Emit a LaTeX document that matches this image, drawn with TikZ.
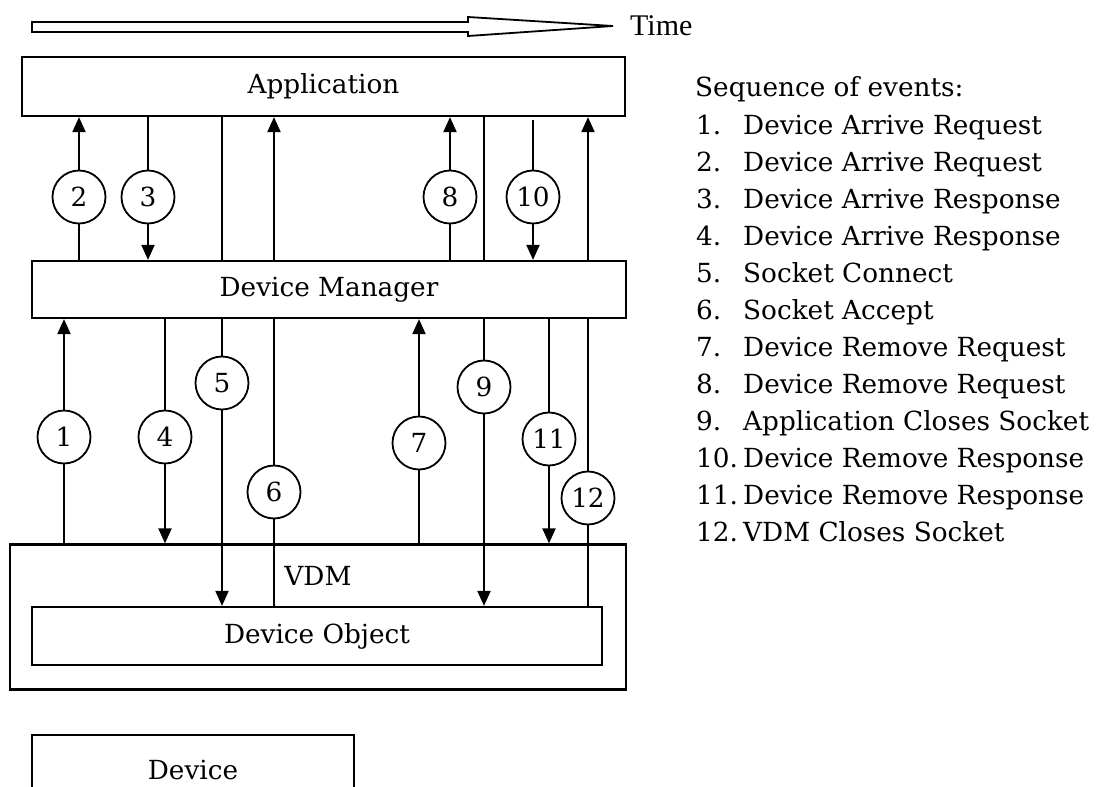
\documentclass[tikz,border=0pt]{standalone}
\usepackage{fontspec}
\setmainfont{DejaVu Serif}
\newfontfamily\timefont{Liberation Serif}
\usepackage{tikz}
\usetikzlibrary{arrows.meta}

\tikzset{
  box/.style={draw,line width=2.2pt,inner sep=0pt},
  num/.style={draw,circle,fill=white,line width=1.8pt,minimum size=53pt,inner sep=0pt},
  ln/.style={line width=2pt},
  arr/.style={ln,-{Triangle[length=15pt,width=13pt]}},
  txt/.style={font=\fontsize{26.3}{31}\selectfont}
}

\begin{document}
\begin{tikzpicture}[x=1pt,y=-1pt,every node/.style={txt}]
\clip (0,0) rectangle (1096,787);

\draw[line width=1.8pt,fill=white] (32,22) -- (468,22) -- (468,17) -- (613,26) -- (468,36) -- (468,32) -- (32,32) -- cycle;
\node[anchor=base west,inner sep=0pt,font=\timefont\fontsize{30}{34}\selectfont] (time) at (630,35) {Time};

\node[box,minimum width=603pt,minimum height=59pt] (app) at (323.5,86.5) {Application};
\node[box,minimum width=594pt,minimum height=57pt] (dm) at (329,289.5) {Device Manager};
\node[box,minimum width=616pt,minimum height=145pt] (vdm) at (318,617) {};
\node (vdmtxt) at (318,576) {VDM};
\node[box,minimum width=570pt,minimum height=58pt] (do) at (317,636) {Device Object};
\node[box,minimum width=322pt,minimum height=70pt] (dev) at (193,770) {Device};

\coordinate (n1) at (64,437);
\coordinate (n2) at (79,197);
\coordinate (n3) at (148,197);
\coordinate (n4) at (165,437);
\coordinate (n5) at (222,383);
\coordinate (n6) at (274,492);
\coordinate (n7) at (419,443);
\coordinate (n8) at (450,197);
\coordinate (n9) at (484,387);
\coordinate (n10) at (533,197);
\coordinate (n11) at (549,439);
\coordinate (n12) at (588,498);

\draw[ln] (n1 |- vdm.north) -- (n1);
\draw[arr] (n1) -- (n1 |- dm.south);
\draw[ln] (n2 |- dm.north) -- (n2);
\draw[arr] (n2) -- (n2 |- app.south);
\draw[ln] (n3 |- app.south) -- (n3);
\draw[arr] (n3) -- (n3 |- dm.north);
\draw[ln] (n4 |- dm.south) -- (n4);
\draw[arr] (n4) -- (n4 |- vdm.north);
\draw[ln] (n5 |- app.south) -- (n5 |- dm.north);
\draw[ln] (n5 |- dm.south) -- (n5);
\draw[arr] (n5) -- (n5 |- do.north);
\draw[ln] (n6 |- do.north) -- (n6);
\draw[ln] (n6) -- (n6 |- dm.south);
\draw[arr] (n6 |- dm.north) -- (n6 |- app.south);
\draw[ln] (n7 |- vdm.north) -- (n7);
\draw[arr] (n7) -- (n7 |- dm.south);
\draw[ln] (n8 |- dm.north) -- (n8);
\draw[arr] (n8) -- (n8 |- app.south);
\draw[ln] (n9 |- app.south) -- (n9 |- dm.north);
\draw[ln] (n9 |- dm.south) -- (n9);
\draw[arr] (n9) -- (n9 |- do.north);
\draw[ln] ([yshift=-3pt]n10 |- app.south) -- (n10);
\draw[arr] (n10) -- (n10 |- dm.north);
\draw[ln] (n11 |- dm.south) -- (n11);
\draw[arr] (n11) -- (n11 |- vdm.north);
\draw[ln] (n12 |- do.north) -- (n12);
\draw[ln] (n12) -- (n12 |- dm.south);
\draw[arr] (n12 |- dm.north) -- (n12 |- app.south);

\foreach \i in {1,...,12}
  \node[num] (c\i) at (n\i) {\i};

\node[anchor=base west,inner sep=0pt] (seq) at (695,96) {Sequence of events:};
\foreach \t [count=\i] in {Device Arrive Request,Device Arrive Request,Device Arrive Response,Device Arrive Response,Socket Connect,Socket Accept,Device Remove Request,Device Remove Request,Application Closes Socket,Device Remove Response,Device Remove Response,VDM Closes Socket}
{
  \node[anchor=base west,inner sep=0pt] (k\i) at (696,{134+37*(\i-1)}) {\i.};
  \node[anchor=base west,inner sep=0pt] (e\i) at (743,{134+37*(\i-1)}) {\t};
}
\end{tikzpicture}
\end{document}
